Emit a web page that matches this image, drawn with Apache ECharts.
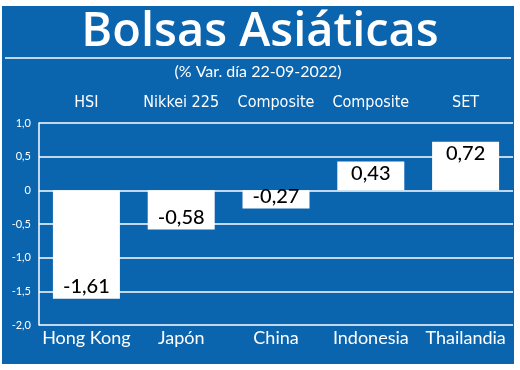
<!DOCTYPE html>
<html><head><meta charset="utf-8">
<script src="https://cdn.jsdelivr.net/npm/echarts@6/dist/echarts.min.js"></script>
<style>html,body{margin:0;padding:0;background:#fff}#c{width:520px;height:370px}</style>
</head><body><div id="c"></div>
<script>
const countries = ['Hong Kong', 'Japón', 'China', 'Indonesia', 'Thailandia'];
const indices = ['HSI', 'Nikkei 225', 'Composite', 'Composite', 'SET'];
const values = [-1.61, -0.58, -0.27, 0.43, 0.72];
const titleText = 'Bolsas Asiáticas';
const subtitleText = '(% Var. día 22-09-2022)';

const BLUE = '#0a64ae';
const fmt = v => v.toFixed(2).replace('.', ',');
const chart = echarts.init(document.getElementById('c'), null, {renderer: 'canvas'});
chart.setOption({
  backgroundColor: '#fff',
  animation: false,
  graphic: [
    {type: 'rect', z: -10, shape: {x: 2, y: 6, width: 512, height: 358}, style: {fill: BLUE}},
    {type: 'line', z: 5, shape: {x1: 5, y1: 58, x2: 511, y2: 58}, style: {stroke: '#fff', lineWidth: 1.5}},
    {type: 'text', z: 5, x: 260, y: 33, style: {text: titleText, fill: '#fff', font: '600 47px "Open Sans"', align: 'center', verticalAlign: 'middle'}},
    {type: 'text', z: 5, x: 258, y: 72, style: {text: subtitleText, fill: '#fff', font: '16px Lato', align: 'center', verticalAlign: 'middle'}}
  ],
  grid: {left: 39, right: 7, top: 123, bottom: 45, containLabel: false},
  xAxis: [
    {type: 'category', data: countries, position: 'bottom',
     axisLine: {show: false}, axisTick: {show: false},
     axisLabel: {color: '#fff', fontFamily: 'Lato', fontSize: 18, margin: 4, interval: 0}},
    {type: 'category', data: indices, position: 'top',
     axisLine: {show: false}, axisTick: {show: false},
     axisLabel: {color: '#fff', fontFamily: '"Liberation Sans Narrow", "DejaVu Sans Condensed", Lato', fontSize: 16, margin: 12, interval: 0}}
  ],
  yAxis: {
    type: 'value', min: -2, max: 1, interval: 0.5,
    axisLine: {show: true, lineStyle: {color: '#fff', width: 1.5}},
    axisTick: {show: false},
    splitLine: {show: true, lineStyle: {color: '#fff', width: 1.5}},
    axisLabel: {color: '#fff', fontFamily: 'Lato', fontSize: 11, margin: 8,
      formatter: v => v === 0 ? '0' : v.toFixed(1).replace('.', ',')}
  },
  series: [{
    type: 'bar', xAxisIndex: 0, barWidth: 67,
    itemStyle: {color: '#fff'},
    data: values.map(v => ({value: v, label: {position: v < 0 ? 'insideBottom' : 'insideTop'}})),
    label: {show: true, color: '#000', fontFamily: 'Lato', fontSize: 20, fontWeight: 500, distance: 2,
      formatter: p => fmt(p.value)}
  }]
});
</script></body></html>
